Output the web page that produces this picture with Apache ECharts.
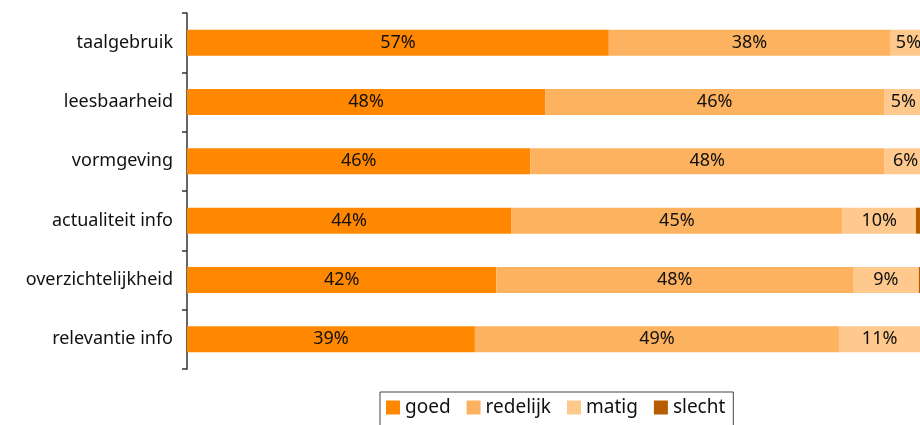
<!DOCTYPE html>
<html>
<head>
<meta charset="utf-8">
<style>
  html, body { margin: 0; padding: 0; background: #fff; }
  #main { width: 920px; height: 425px; }
</style>
<script src="https://cdn.jsdelivr.net/npm/echarts@6/dist/echarts.min.js"></script>
</head>
<body>
<div id="main"></div>
<script>
var categories = ['taalgebruik', 'leesbaarheid', 'vormgeving', 'actualiteit info', 'overzichtelijkheid', 'relevantie info']
// percentages (labels show them rounded)
var goed = [57, 48.4, 46.4, 43.8, 41.8, 38.9]
var redelijk = [38, 45.8, 47.8, 44.8, 48.2, 49.2]
var matig = [5, 5.2, 5.8, 9.9, 8.9, 11]
var slecht = [0, 0.6, 0, 1.5, 1.1, 0.9]

var names = ['goed', 'redelijk', 'matig', 'slecht']
var colors = ['#ff8800', '#fdb25f', '#ffc88c', '#b85c00']
var font = 'Noto Sans'

var myChart = echarts.init(document.getElementById('main'))

function makeSeries(name, data, i) {
  return {
    name: name,
    type: 'bar',
    stack: 'total',
    barWidth: 26,
    data: data,
    itemStyle: { color: colors[i] },
    label: {
      show: name !== 'slecht',
      position: 'inside',
      color: '#111',
      fontFamily: font,
      fontSize: 18,
      formatter: function (p) { return Math.round(p.value) + '%' }
    }
  }
}

var option = {
  animation: false,
  textStyle: { fontFamily: font },
  color: colors,
  // plot area runs past the right edge of the window, as in the original
  grid: { left: 187, width: 740, top: 13, bottom: 56, containLabel: false, outerBoundsMode: 'none' },
  legend: {
    left: 380,
    top: 392,
    data: names,
    icon: 'rect',
    itemWidth: 14,
    itemHeight: 14,
    itemGap: 16,
    padding: [6, 8, 12, 6],
    borderColor: '#444',
    borderWidth: 1,
    borderRadius: 0,
    textStyle: { fontFamily: font, fontSize: 19, color: '#111' }
  },
  xAxis: {
    type: 'value',
    min: 0,
    max: 100,
    show: false
  },
  yAxis: {
    type: 'category',
    inverse: true,
    data: categories,
    axisLine: { show: true, lineStyle: { color: '#333', width: 1.5 } },
    axisTick: { show: true, length: 5, inside: false, alignWithLabel: false, lineStyle: { color: '#333', width: 1.5 } },
    axisLabel: { color: '#111', fontSize: 18, fontFamily: font, margin: 14 },
    splitLine: { show: false }
  },
  series: [
    makeSeries('goed', goed, 0),
    makeSeries('redelijk', redelijk, 1),
    makeSeries('matig', matig, 2),
    makeSeries('slecht', slecht, 3)
  ]
}
myChart.setOption(option)
</script>
</body>
</html>
